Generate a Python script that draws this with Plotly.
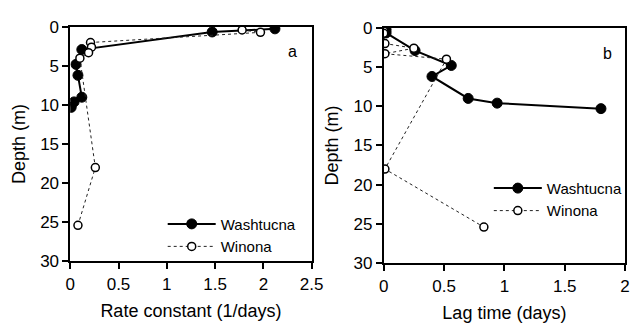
import plotly.graph_objects as go

# Washtucna
depth_wa = [0.25, 0.65, 2.9, 4.8, 6.2, 9.0, 9.6, 10.3]
rate_wa = [2.12, 1.47, 0.12, 0.06, 0.08, 0.12, 0.04, 0.01]
lag_wa = [0.02, 0.02, 0.26, 0.56, 0.40, 0.70, 0.94, 1.80]
# Winona
depth_wi = [0.4, 0.7, 2.0, 2.6, 3.3, 4.0, 18.0, 25.4]
rate_wi = [1.78, 1.97, 0.21, 0.22, 0.19, 0.10, 0.26, 0.08]
lag_wi = [0.0, 0.0, 0.01, 0.25, 0.01, 0.52, 0.01, 0.83]

xticks_a = [0, 0.5, 1, 1.5, 2, 2.5]
xticks_b = [0, 0.5, 1, 1.5, 2]
yticks = [0, 5, 10, 15, 20, 25, 30]

FONT = "Liberation Sans, Arial, Helvetica, sans-serif"
W, H = 641, 324

fig = go.Figure()

wa_style = dict(mode="lines+markers", line=dict(color="black", width=2),
                marker=dict(size=10, color="black", line=dict(color="black", width=1)))
wi_style = dict(mode="lines+markers", line=dict(color="#222222", width=1, dash="dot"),
                marker=dict(size=8, color="white", line=dict(color="black", width=1.5)))

fig.add_trace(go.Scatter(x=rate_wa, y=depth_wa, name="Washtucna", xaxis="x", yaxis="y",
                         legend="legend", **wa_style))
fig.add_trace(go.Scatter(x=rate_wi, y=depth_wi, name="Winona", xaxis="x", yaxis="y",
                         legend="legend", **wi_style))
fig.add_trace(go.Scatter(x=lag_wa, y=depth_wa, name="Washtucna", xaxis="x2", yaxis="y2",
                         legend="legend2", **wa_style))
fig.add_trace(go.Scatter(x=lag_wi, y=depth_wi, name="Winona", xaxis="x2", yaxis="y2",
                         legend="legend2", **wi_style))

def px_x(p):
    return p / W

def px_y(p):
    return 1 - p / H

axis_common = dict(showgrid=False, zeroline=False, showline=True, linecolor="black",
                   mirror=True, ticks="outside", ticklen=6, tickwidth=1.5, tickcolor="black",
                   tickfont=dict(family=FONT, size=17, color="black"))

fig.update_layout(
    width=W, height=H,
    margin=dict(l=0, r=0, t=0, b=0),
    paper_bgcolor="white", plot_bgcolor="white",
    font=dict(family=FONT, color="black"),
    xaxis=dict(domain=[px_x(67), px_x(315)], range=[0, 2.5], tickvals=xticks_a,
               ticktext=[f"{v:g}" for v in xticks_a], linewidth=2, anchor="y",
               title=dict(text="Rate constant (1/days)", font=dict(size=18), standoff=12),
               **axis_common),
    yaxis=dict(domain=[px_y(268), px_y(19)], range=[30, 0], tickvals=yticks, linewidth=1.5,
               anchor="x", title=dict(text="Depth (m)", font=dict(size=18), standoff=10),
               **axis_common),
    xaxis2=dict(domain=[px_x(389), px_x(637)], range=[0, 2], tickvals=xticks_b,
                ticktext=[f"{v:g}" for v in xticks_b], linewidth=2, anchor="y2",
                title=dict(text="Lag time (days)", font=dict(size=18), standoff=12),
                **axis_common),
    yaxis2=dict(domain=[px_y(270), px_y(20)], range=[30, 0], tickvals=yticks, linewidth=1.5,
                anchor="x2", title=dict(text="Depth (m)", font=dict(size=18), standoff=10),
                **axis_common),
    legend=dict(x=px_x(162), y=px_y(211), xanchor="left", yanchor="top",
                bgcolor="rgba(0,0,0,0)", font=dict(family=FONT, size=15),
                itemwidth=48, tracegroupgap=0),
    legend2=dict(x=px_x(497), y=px_y(173), xanchor="left", yanchor="top",
                 bgcolor="rgba(0,0,0,0)", font=dict(family=FONT, size=15),
                 itemwidth=48, tracegroupgap=0),
    annotations=[
        dict(text="a", x=px_x(295), y=px_y(34), xref="paper", yref="paper",
             showarrow=False, font=dict(family=FONT, size=16)),
        dict(text="b", x=px_x(626), y=px_y(36), xref="paper", yref="paper",
             showarrow=False, font=dict(family=FONT, size=16)),
    ],
)

fig.write_html("out.html")
